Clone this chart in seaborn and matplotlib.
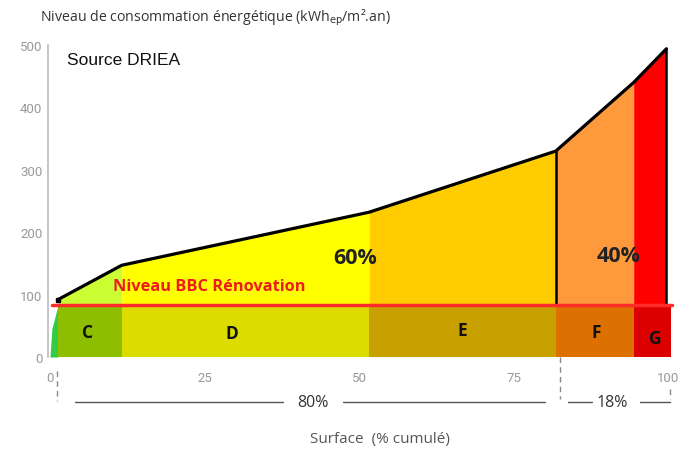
import numpy as np
import pandas as pd
import seaborn as sns
import matplotlib
matplotlib.use("Agg")
import matplotlib.pyplot as plt

# cumulated surface (%) vs consumption level (kWh/m2.an)
surface = [0, 0.3, 1.3, 11.6, 51.6, 81.8, 94.4, 99.7]
conso = [0, 45, 92, 147, 232, 330, 440, 494]

classes = ["C", "D", "E", "F", "G"]
class_bounds = [1.3, 11.6, 51.6, 81.8, 94.4, 100.5]
bbc_level = 83

share_labels = ["60%", "40%"]
surface_shares = ["80%", "18%"]
x_ticks = [0, 25, 50, 75, 100]
y_ticks = [0, 100, 200, 300, 400, 500]

col_above = ["#ccff33", "#ffff00", "#ffcc00", "#ff9a3c", "#ff0000"]
col_below = ["#8dbf00", "#dcdc00", "#c8a000", "#dc7000", "#dc0000"]
col_sliver = "#33cc44"

sns.set_theme(style="white")
plt.rcParams['font.family'] = ['Open Sans', 'DejaVu Sans']

fig = plt.figure(figsize=(6.85, 4.52), dpi=100)
ax = fig.add_axes([48 / 685, 94 / 452, 637 / 685, 312 / 452])

df = pd.DataFrame({"surface": surface, "conso": conso})

# green sliver at the very left
xs = [x for x in surface if x <= class_bounds[0]]
ys = np.minimum(np.interp(xs, surface, conso), bbc_level)
ax.fill_between(xs, 0, ys, color=col_sliver, lw=0)

for i, cls in enumerate(classes):
    a, b = class_bounds[i], class_bounds[i + 1]
    ax.fill_between([a, b], 0, bbc_level, color=col_below[i], lw=0)
    end = min(b, surface[-1])
    seg = [a] + [x for x in surface if a < x < end] + [end]
    ax.fill_between(seg, bbc_level, np.interp(seg, surface, conso),
                    color=col_above[i], lw=0)

sns.lineplot(data=df[df.surface >= class_bounds[0]], x="surface", y="conso",
             color="black", lw=2.3, sort=False, ax=ax)
ax.plot(surface[2], conso[2], "s", color="black", ms=3)
for xv in [surface[5], surface[-1]]:
    ax.plot([xv, xv], [bbc_level, np.interp(xv, surface, conso)],
            color="black", lw=1.8)

ax.plot([0.3, 100.6], [bbc_level, bbc_level], color="#ff2a2a", lw=2.5)

ax.set_xlim(-0.32, 102.7)
ax.set_ylim(0, 500)
ax.set_xticks(x_ticks)
ax.set_yticks(y_ticks)
ax.tick_params(axis="x", pad=10, labelsize=9.5, colors="#999999", length=0)
ax.tick_params(axis="y", pad=4, labelsize=9.5, colors="#999999", length=0)
for lab in ax.get_xticklabels() + ax.get_yticklabels():
    lab.set_family(["Roboto", "DejaVu Sans"])
ax.set_xlabel("")
ax.set_ylabel("")
for s in ["top", "right", "bottom"]:
    ax.spines[s].set_visible(False)
ax.spines["left"].set_color("#bbbbbb")
ax.spines["left"].set_linewidth(1.2)

# texts inside the chart
ax.text(2.75, 477, "Source DRIEA", fontsize=12.5, family=["Liberation Sans"],
        va="center", ha="left", color="#111111")
ax.text(10.2, 114, "Niveau BBC Rénovation", fontsize=11.8, fontweight="bold",
        color="#ee1c1c", va="center", ha="left")
ax.text(49.4, 160, share_labels[0], fontsize=15.5, fontweight="bold",
        color="#222222", ha="center", va="center")
ax.text(91.9, 163, share_labels[1], fontsize=15.5, fontweight="bold",
        color="#222222", ha="center", va="center")
cls_pos = [(6.1, 40), (29.4, 38), (66.7, 43), (88.3, 40), (97.9, 30)]
for cls, (cx, cy) in zip(classes, cls_pos):
    ax.text(cx, cy, cls, fontsize=12.5, fontweight="bold", color="#111111",
            ha="center", va="center")

# surface shares under the axis
dash = dict(color="#888888", lw=1, ls=(0, (4, 3)), clip_on=False)
ax.plot([1.1, 1.1], [-22, -71], **dash)
ax.plot([82.5, 82.5], [0, -68], **dash)
ax.plot([100.3, 100.3], [-51, -68], **dash)
line = dict(color="#555555", lw=1, clip_on=False)
ax.plot([4.0, 37.7], [-72, -72], **line)
ax.plot([47.4, 80.1], [-72, -72], **line)
ax.plot([83.7, 87.7], [-72, -72], **line)
ax.plot([95.5, 100.3], [-72, -72], **line)
ax.text(42.6, -72, surface_shares[0], fontsize=11.5, color="#333333",
        ha="center", va="center")
ax.text(91.0, -72, surface_shares[1], fontsize=11.5, color="#333333",
        ha="center", va="center")
ax.text(53.4, -131, "Surface  (% cumulé)", fontsize=11, color="#555555",
        ha="center", va="center")

fig.text(40 / 685, 1 - 18 / 452,
         r"Niveau de consommation énergétique (kWh$_{\mathrm{ep}}$/m².an)",
         fontsize=10.2, color="#333333", ha="left", va="center")

fig.savefig("out.png", dpi=100)
